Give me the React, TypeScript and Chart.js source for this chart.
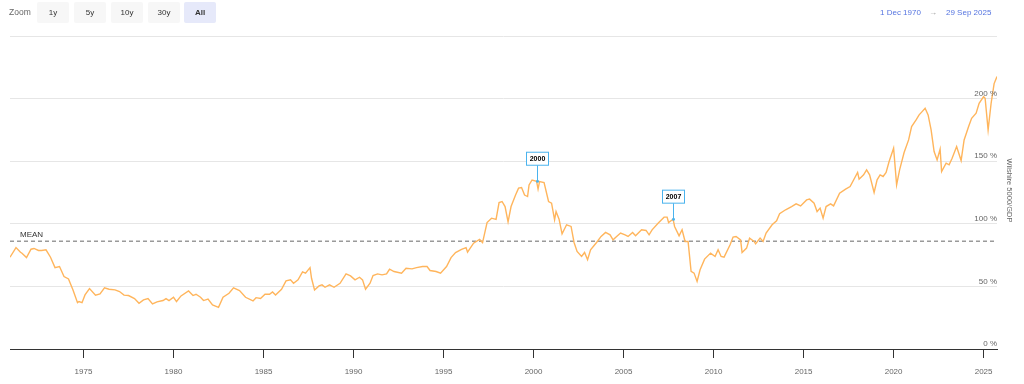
import React, { useEffect, useRef } from "react";
import { Chart, registerables } from "chart.js";

Chart.register(...registerables);

const FONT = "'Liberation Sans', Arial, Helvetica, sans-serif";

const rangeStart = "1970-12-01";
const rangeEnd = "2025-09-29";
const zoomButtons = ["1y", "5y", "10y", "30y", "All"];
const selectedZoom = "All";
const yTicks = [0, 50, 100, 150, 200, 250];
const yLabelTicks = [0, 50, 100, 150, 200];
const xTicks = [1975, 1980, 1985, 1990, 1995, 2000, 2005, 2010, 2015, 2020, 2025];
const axisTitle = "Wilshire 5000/GDP";
const meanLabel = "MEAN";
const meanValue = 86;

const dates = [
  "1970-12", "1971-04", "1971-07", "1971-08", "1971-11", "1972-02", "1972-04", "1972-07", "1972-09", "1972-12",
  "1973-03", "1973-06", "1973-09", "1973-12", "1974-03", "1974-06", "1974-09", "1974-10", "1974-12", "1975-02",
  "1975-05", "1975-09", "1975-12", "1976-03", "1976-06", "1976-10", "1977-01", "1977-04", "1977-07", "1977-11",
  "1978-02", "1978-05", "1978-08", "1978-11", "1979-02", "1979-06", "1979-08", "1979-10", "1980-01", "1980-03",
  "1980-06", "1980-11", "1981-02", "1981-04", "1981-07", "1981-09", "1981-12", "1982-03", "1982-07", "1982-10",
  "1983-02", "1983-05", "1983-09", "1984-01", "1984-06", "1984-08", "1984-11", "1985-02", "1985-05", "1985-07",
  "1985-09", "1986-01", "1986-04", "1986-07", "1986-09", "1986-12", "1987-03", "1987-05", "1987-08", "1987-09",
  "1987-11", "1988-02", "1988-04", "1988-06", "1988-09", "1988-12", "1989-04", "1989-08", "1989-11", "1990-02",
  "1990-05", "1990-07", "1990-09", "1990-12", "1991-02", "1991-05", "1991-08", "1991-11", "1992-01", "1992-04",
  "1992-09", "1992-12", "1993-04", "1993-07", "1993-11", "1994-02", "1994-04", "1994-08", "1994-11", "1995-03",
  "1995-06", "1995-09", "1996-01", "1996-04", "1996-05", "1996-09", "1997-01", "1997-03", "1997-06", "1997-09",
  "1997-12", "1998-02", "1998-04", "1998-06", "1998-08", "1998-10", "1999-01", "1999-03", "1999-05", "1999-07",
  "1999-09", "1999-10", "1999-12", "2000-03", "2000-04", "2000-05", "2000-08", "2000-11", "2001-01", "2001-03",
  "2001-04", "2001-06", "2001-08", "2001-11", "2002-02", "2002-04", "2002-06", "2002-09", "2002-11", "2003-01",
  "2003-03", "2003-07", "2003-10", "2004-01", "2004-04", "2004-06", "2004-08", "2004-11", "2005-02", "2005-04",
  "2005-07", "2005-09", "2006-01", "2006-04", "2006-06", "2006-08", "2006-12", "2007-04", "2007-06", "2007-07",
  "2007-10", "2007-11", "2008-02", "2008-04", "2008-06", "2008-08", "2008-10", "2008-12", "2009-02", "2009-04",
  "2009-07", "2009-11", "2010-02", "2010-04", "2010-06", "2010-08", "2010-12", "2011-02", "2011-04", "2011-07",
  "2011-08", "2011-11", "2012-01", "2012-04", "2012-05", "2012-08", "2012-10", "2012-12", "2013-04", "2013-07",
  "2013-09", "2014-01", "2014-05", "2014-08", "2014-11", "2015-03", "2015-05", "2015-08", "2015-10", "2015-12",
  "2016-02", "2016-04", "2016-07", "2016-09", "2017-01", "2017-05", "2017-08", "2018-01", "2018-02", "2018-05",
  "2018-07", "2018-09", "2018-12", "2019-02", "2019-04", "2019-06", "2019-08", "2019-10", "2020-01", "2020-03",
  "2020-05", "2020-08", "2020-11", "2021-01", "2021-04", "2021-06", "2021-08", "2021-10", "2021-12", "2022-02",
  "2022-04", "2022-06", "2022-08", "2022-09", "2022-12", "2023-02", "2023-04", "2023-07", "2023-10", "2023-12",
  "2024-03", "2024-05", "2024-08", "2024-10", "2025-01", "2025-02", "2025-04", "2025-06", "2025-08", "2025-09-29",
];

const ratio = [
  73.3, 81, 77.3, 76.5, 73, 79.7, 80.3, 78.7, 78.7, 79.2,
  73.3, 65, 65.9, 57.9, 56, 47.2, 37, 37.9, 37, 43.2,
  48.3, 43, 44, 48.8, 47.7, 47.2, 45.9, 43, 42.7, 40.3,
  36.5, 39.2, 40.3, 36, 37.6, 38.7, 40.3, 38.7, 41.3, 37.9,
  42.4, 46.4, 42.7, 43.7, 41.3, 38.7, 39.8, 35.2, 33.3, 41.3,
  44.5, 48.8, 46.7, 41.3, 38.4, 41, 40.3, 43.7, 43.7, 45.6,
  43.2, 47.7, 54.4, 55.2, 52.5, 55.2, 61.6, 60.5, 65, 56.5,
  47.2, 50.4, 51.2, 49.3, 51.2, 49.3, 52.5, 60, 58.4, 55.2,
  57.3, 55.2, 47.7, 52.5, 58.7, 60, 59.2, 60, 63.7, 61.9,
  60.5, 64.5, 64, 65, 65.9, 65.9, 62.7, 61.9, 60.5, 65.9,
  73, 77, 79.5, 81, 77.3, 84.5, 87.5, 85, 101, 104.5,
  103.5, 117, 117.8, 113.8, 101.5, 113.8, 123, 128.5, 129, 123,
  121.8, 131, 135, 134, 127.7, 133.8, 133, 117.8, 116.5, 103.2,
  109.8, 103.7, 92, 99.2, 97.9, 85.1, 77.9, 73.9, 77.1, 71.3,
  79.3, 85.1, 89.9, 93.1, 91.2, 87.2, 89.4, 92.6, 91.2, 89.9,
  93.1, 90.4, 95.2, 94.7, 91.2, 95.2, 100.5, 105.3, 105.3, 101,
  103.7, 97.9, 90.4, 95.2, 85.9, 85.9, 62, 60.6, 54, 63.3,
  71.8, 76.6, 73.9, 79.3, 73.9, 73.4, 83.2, 89.4, 89.9, 87.2,
  77.1, 80.6, 88.6, 85.9, 84, 88.6, 85.9, 92.6, 99.2, 102.4,
  108, 111.2, 113.8, 115.9, 114.3, 119.1, 119.7, 116.5, 109.8, 112.5,
  104.5, 113.8, 115.9, 114.3, 124.4, 127.7, 129.8, 141, 135.6, 139.1,
  143.1, 139.1, 125, 135.1, 139.1, 137.8, 141, 149.7, 160.4, 131.1,
  143.1, 156.9, 167, 177.7, 183, 187, 189.6, 192.3, 187, 175,
  157.7, 151, 159.6, 141.8, 148.4, 147.1, 152.4, 161.7, 150.5, 167,
  177.7, 184.3, 188.3, 196.3, 201.6, 200.3, 175, 196.3, 212, 217.6,
];

const flagLabels = ["2000", "2007"];
const flagDates = ["2000-03-10", "2007-10-01"];
const flagValues = [134, 103.7];

function toYear(s: string): number {
  const p = s.split("-").map(Number);
  const y = p[0];
  const m = p[1] || 1;
  const d = p[2] || 1;
  return y + (m - 1) / 12 + (d - 1) / 365;
}

const overlayPlugin = {
  id: "overlay",
  beforeDatasetsDraw(chart: any) {
    const { ctx, chartArea, scales } = chart;
    const y = scales.y.getPixelForValue(meanValue);
    ctx.save();
    ctx.strokeStyle = "#9a9a9a";
    ctx.lineWidth = 1.5;
    ctx.setLineDash([4, 3]);
    ctx.beginPath();
    ctx.moveTo(chartArea.left, y);
    ctx.lineTo(chartArea.right, y);
    ctx.stroke();
    ctx.setLineDash([]);
    ctx.fillStyle = "#333";
    ctx.font = `8px ${FONT}`;
    ctx.textAlign = "left";
    ctx.textBaseline = "middle";
    ctx.fillText(meanLabel, chartArea.left + 10, y - 7);
    ctx.restore();
  },
  afterDatasetsDraw(chart: any) {
    const { ctx, chartArea, scales } = chart;
    ctx.save();
    ctx.fillStyle = "#666";
    ctx.font = `8px ${FONT}`;
    ctx.textAlign = "right";
    ctx.textBaseline = "middle";
    yLabelTicks.forEach((v) => {
      const py = scales.y.getPixelForValue(v);
      ctx.fillText(`${v} %`, chartArea.right, py - 5);
    });
    ctx.save();
    ctx.translate(chartArea.right + 12, (chartArea.top + chartArea.bottom) / 2 - 2);
    ctx.rotate(Math.PI / 2);
    ctx.font = `7.5px ${FONT}`;
    ctx.textAlign = "center";
    ctx.textBaseline = "middle";
    ctx.fillStyle = "#666";
    ctx.fillText(axisTitle, 0, 0);
    ctx.restore();
    flagLabels.forEach((lab, i) => {
      const px = Math.round(scales.x.getPixelForValue(toYear(flagDates[i]))) + 0.5;
      const py = scales.y.getPixelForValue(flagValues[i]);
      const bw = 22;
      const bh = 13;
      const bottom = py - 16;
      ctx.strokeStyle = "#4ab3ee";
      ctx.lineWidth = 1;
      ctx.beginPath();
      ctx.moveTo(px, py);
      ctx.lineTo(px, bottom);
      ctx.stroke();
      ctx.fillStyle = "#4ab3ee";
      ctx.beginPath();
      ctx.arc(px, py, 1.5, 0, Math.PI * 2);
      ctx.fill();
      ctx.fillStyle = "#fff";
      ctx.fillRect(px - bw / 2, bottom - bh, bw, bh);
      ctx.strokeRect(px - bw / 2, bottom - bh, bw, bh);
      ctx.fillStyle = "#000";
      ctx.font = `bold 7px ${FONT}`;
      ctx.textAlign = "center";
      ctx.textBaseline = "middle";
      ctx.fillText(lab, px, bottom - bh / 2 + 0.5);
    });
    ctx.restore();
  },
};

export default function App() {
  const ref = useRef<HTMLCanvasElement | null>(null);

  useEffect(() => {
    if (!ref.current) return;
    const points = dates.map((d, i) => ({ x: toYear(d), y: ratio[i] }));
    const chart = new Chart(ref.current, {
      type: "line",
      data: {
        datasets: [
          {
            data: points,
            borderColor: "#ffb55c",
            borderWidth: 1.4,
            pointRadius: 0,
            tension: 0,
            fill: false,
          },
        ],
      },
      options: {
        animation: false,
        responsive: false,
        devicePixelRatio: 1,
        layout: { padding: { left: 10, top: 36, right: 0, bottom: 0 } },
        plugins: { legend: { display: false }, tooltip: { enabled: false } },
        scales: {
          x: {
            type: "linear",
            min: toYear(rangeStart),
            max: toYear(rangeEnd),
            afterBuildTicks: (s: any) => {
              s.ticks = xTicks.map((v) => ({ value: v }));
            },
            afterFit: (s: any) => {
              s.height = 35;
            },
            grid: {
              drawOnChartArea: false,
              drawTicks: true,
              tickLength: 9,
              color: "#333",
              lineWidth: 1,
            },
            border: { display: true, color: "#333", width: 1 },
            ticks: {
              autoSkip: false,
              maxRotation: 0,
              padding: 9,
              color: "#666",
              font: { family: FONT, size: 8 },
              callback: (v: any) => String(v),
            },
          },
          y: {
            position: "right",
            min: 0,
            max: 250,
            afterBuildTicks: (s: any) => {
              s.ticks = yTicks.map((v) => ({ value: v }));
            },
            afterFit: (s: any) => {
              s.width = 27;
            },
            grid: { color: "#e6e6e6", lineWidth: 1, drawTicks: false },
            border: { display: false },
            ticks: { display: false },
          },
        },
      },
      plugins: [overlayPlugin],
    });
    return () => chart.destroy();
  }, []);

  const btnBase: React.CSSProperties = {
    position: "absolute",
    top: 2,
    width: 32,
    height: 21,
    lineHeight: "21px",
    textAlign: "center",
    fontSize: 8,
    color: "#333",
    background: "#f7f7f7",
    borderRadius: 2,
  };
  const btnLefts = [37, 74, 111, 148, 184];

  return (
    <div style={{ position: "fixed", left: 0, top: 0, width: 1024, height: 384, background: "#fff", fontFamily: FONT }}>
      <canvas ref={ref} width={1024} height={384} style={{ position: "absolute", left: 0, top: 0, width: 1024, height: 384 }} />
      <div style={{ position: "absolute", left: 9, top: 2, height: 21, lineHeight: "21px", fontSize: 8.5, color: "#666" }}>Zoom</div>
      {zoomButtons.map((b, i) => (
        <div
          key={b}
          style={{
            ...btnBase,
            left: btnLefts[i],
            background: b === selectedZoom ? "#e6e9fa" : "#f7f7f7",
            fontWeight: b === selectedZoom ? "bold" : "normal",
          }}
        >
          {b}
        </div>
      ))}
      <div style={{ position: "absolute", left: 880, top: 8, fontSize: 8, color: "#5574e0", whiteSpace: "nowrap" }}>
        1 Dec 1970
      </div>
      <div style={{ position: "absolute", left: 929, top: 8, fontSize: 8, color: "#999" }}>→</div>
      <div style={{ position: "absolute", left: 946, top: 8, fontSize: 8, color: "#5574e0", whiteSpace: "nowrap" }}>
        29 Sep 2025
      </div>
    </div>
  );
}
